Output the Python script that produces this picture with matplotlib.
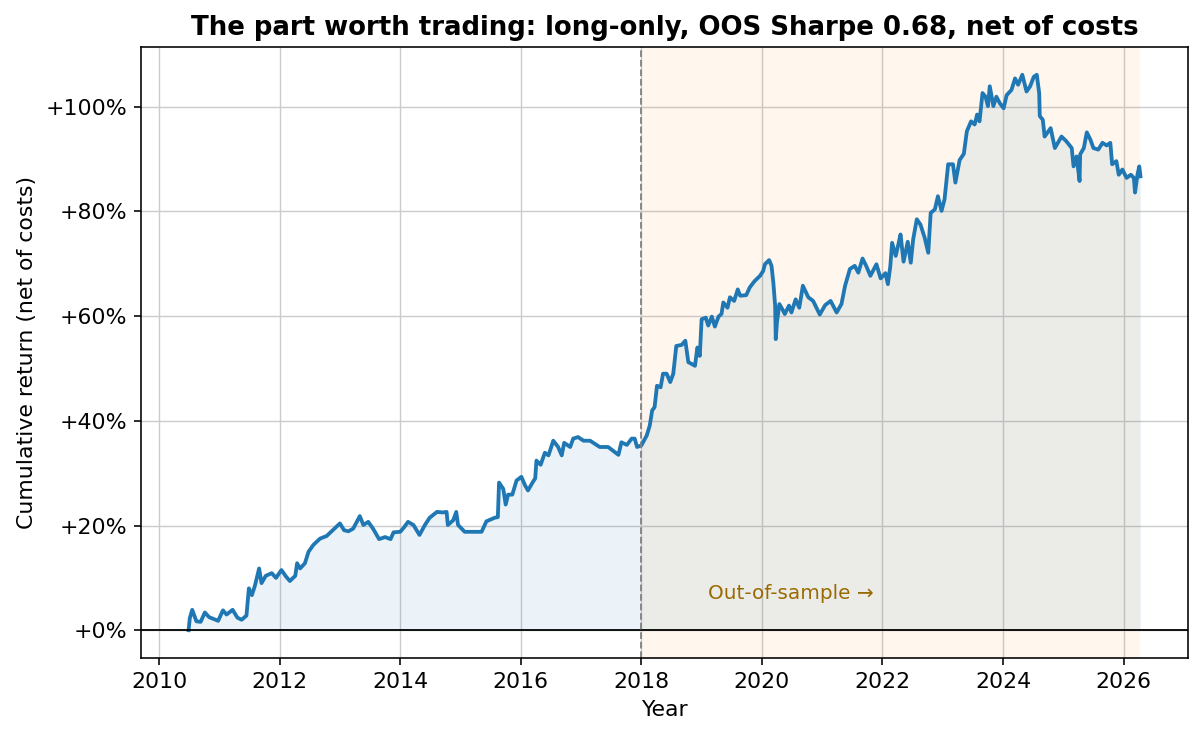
import matplotlib
matplotlib.use("Agg")
import matplotlib.pyplot as plt
from matplotlib.ticker import FuncFormatter

plt.rcParams["font.family"] = ["DejaVu Sans"]
plt.rcParams["font.size"] = 11

# values (decimal year, cumulative return in %)
years = [
    2010.49, 2010.51, 2010.55, 2010.62, 2010.69, 2010.76, 2010.83, 2010.98, 2011.06, 2011.12,
    2011.22, 2011.30, 2011.37, 2011.45, 2011.49, 2011.54, 2011.59, 2011.66, 2011.70, 2011.77,
    2011.87, 2011.94, 2012.03, 2012.11, 2012.17, 2012.26, 2012.29, 2012.34, 2012.42, 2012.48,
    2012.56, 2012.67, 2012.78, 2012.89, 2013.00, 2013.07, 2013.14, 2013.22, 2013.33, 2013.39,
    2013.47, 2013.55, 2013.65, 2013.75, 2013.84, 2013.89, 2014.00, 2014.06, 2014.13, 2014.22,
    2014.32, 2014.41, 2014.49, 2014.61, 2014.71, 2014.77, 2014.79, 2014.88, 2014.93, 2014.96,
    2015.07, 2015.21, 2015.35, 2015.43, 2015.57, 2015.62, 2015.64, 2015.71, 2015.75, 2015.79,
    2015.86, 2015.93, 2016.01, 2016.07, 2016.12, 2016.20, 2016.24, 2016.26, 2016.33, 2016.40,
    2016.46, 2016.54, 2016.62, 2016.68, 2016.72, 2016.82, 2016.87, 2016.95, 2017.04, 2017.15,
    2017.23, 2017.31, 2017.45, 2017.53, 2017.62, 2017.67, 2017.76, 2017.84, 2017.89, 2017.93,
    2018.00, 2018.09, 2018.14, 2018.18, 2018.22, 2018.26, 2018.32, 2018.36, 2018.42, 2018.48,
    2018.53, 2018.58, 2018.67, 2018.73, 2018.78, 2018.83, 2018.89, 2018.93, 2018.97, 2019.00,
    2019.07, 2019.11, 2019.17, 2019.22, 2019.28, 2019.33, 2019.36, 2019.43, 2019.47, 2019.54,
    2019.60, 2019.64, 2019.74, 2019.80, 2019.88, 2019.97, 2020.02, 2020.05, 2020.12, 2020.16,
    2020.19, 2020.22, 2020.23, 2020.25, 2020.29, 2020.34, 2020.38, 2020.45, 2020.49, 2020.56,
    2020.62, 2020.68, 2020.77, 2020.85, 2020.96, 2021.05, 2021.14, 2021.24, 2021.32, 2021.38,
    2021.46, 2021.54, 2021.60, 2021.67, 2021.73, 2021.80, 2021.90, 2021.97, 2022.05, 2022.09,
    2022.13, 2022.16, 2022.22, 2022.27, 2022.30, 2022.35, 2022.42, 2022.47, 2022.51, 2022.57,
    2022.63, 2022.70, 2022.76, 2022.80, 2022.87, 2022.92, 2022.98, 2023.03, 2023.09, 2023.17,
    2023.21, 2023.28, 2023.35, 2023.40, 2023.47, 2023.53, 2023.57, 2023.61, 2023.66, 2023.71,
    2023.75, 2023.78, 2023.84, 2023.89, 2023.95, 2024.01, 2024.06, 2024.14, 2024.20, 2024.25,
    2024.32, 2024.39, 2024.45, 2024.51, 2024.56, 2024.60, 2024.61, 2024.66, 2024.69, 2024.79,
    2024.86, 2024.97, 2025.05, 2025.14, 2025.17, 2025.22, 2025.27, 2025.28, 2025.34, 2025.39,
    2025.45, 2025.50, 2025.58, 2025.65, 2025.72, 2025.78, 2025.81, 2025.88, 2025.92, 2025.98,
    2026.05, 2026.12, 2026.17, 2026.19, 2026.23, 2026.26, 2026.28,
]
cum_ret = [
    0.0, 2.3, 3.9, 1.7, 1.6, 3.4, 2.5, 1.8, 3.8, 3.0,
    3.9, 2.4, 2.0, 2.8, 8.0, 6.7, 8.5, 11.8, 9.0, 10.4,
    10.9, 10.0, 11.5, 10.2, 9.4, 10.4, 12.8, 11.8, 12.8, 15.0,
    16.3, 17.5, 18.0, 19.2, 20.4, 19.1, 18.9, 19.4, 21.8, 20.1,
    20.7, 19.4, 17.4, 17.8, 17.4, 18.7, 18.8, 19.6, 20.7, 20.1,
    18.2, 20.1, 21.5, 22.6, 22.5, 22.6, 20.1, 21.0, 22.6, 20.1,
    18.8, 18.8, 18.8, 20.8, 21.5, 21.6, 28.2, 27.0, 24.0, 25.9,
    25.9, 28.6, 29.3, 27.7, 26.7, 28.3, 29.0, 32.4, 31.6, 33.9,
    33.4, 36.2, 35.0, 33.4, 35.8, 35.0, 36.6, 36.9, 36.2, 36.2,
    35.6, 35.0, 35.0, 34.3, 33.5, 35.9, 35.4, 36.6, 36.6, 35.0,
    35.3, 37.2, 39.1, 42.0, 42.6, 46.7, 46.4, 49.0, 49.0, 47.4,
    49.0, 54.3, 54.5, 55.3, 51.2, 50.9, 50.5, 54.0, 52.4, 59.4,
    59.7, 58.2, 59.9, 58.0, 59.9, 60.4, 62.6, 61.6, 63.6, 62.9,
    65.1, 63.9, 64.0, 65.5, 66.7, 67.7, 68.6, 69.9, 70.7, 69.6,
    66.4, 62.0, 55.6, 58.8, 62.3, 61.3, 60.4, 62.0, 60.7, 63.2,
    61.6, 65.8, 63.6, 62.9, 60.3, 62.1, 62.9, 60.7, 62.3, 65.8,
    69.0, 69.6, 68.3, 71.0, 69.6, 67.7, 69.9, 67.2, 68.2, 66.1,
    69.5, 74.0, 71.5, 74.0, 75.6, 70.4, 74.2, 70.2, 74.7, 78.5,
    77.5, 75.0, 72.1, 79.7, 80.4, 82.9, 80.1, 82.3, 89.0, 89.0,
    85.5, 89.8, 91.0, 95.3, 97.2, 96.6, 98.5, 97.2, 102.6, 101.9,
    100.1, 103.9, 100.1, 101.9, 100.6, 99.7, 102.2, 103.2, 105.4, 104.2,
    106.1, 102.9, 103.9, 105.7, 106.1, 102.6, 98.2, 97.5, 94.3, 95.9,
    92.1, 94.3, 93.4, 92.1, 88.6, 90.5, 85.8, 90.9, 92.1, 95.1,
    93.7, 92.1, 91.8, 93.1, 92.6, 93.1, 89.0, 89.6, 87.0, 88.0,
    86.4, 87.0, 86.4, 83.6, 87.0, 88.6, 86.7,
]
oos_start = 2018.0
year_ticks = [2010, 2012, 2014, 2016, 2018, 2020, 2022, 2024, 2026]

# 144 dpi so text and lines come out at the reference's scale
fig = plt.figure(figsize=(1202 / 144, 741 / 144), dpi=144)
ax = fig.add_axes([0.1173, 0.112, 0.8711, 0.8246])

ret = [v / 100 for v in cum_ret]

ax.axvspan(oos_start, years[-1], color="tab:orange", alpha=0.065, lw=0)
ax.fill_between(years, 0, ret, color="tab:blue", alpha=0.085, lw=0)
ax.plot(years, ret, color="tab:blue", lw=1.9)
ax.axhline(0, color="black", lw=0.9)
ax.axvline(oos_start, color="grey", ls="--", lw=0.9)

ax.text(2019.1, 0.07, "Out-of-sample \u2192", color="#9a6a00", fontsize=10, va="center")

ax.set_xticks(year_ticks)
ax.yaxis.set_major_formatter(FuncFormatter(lambda v, p: "{:+.0%}".format(v)))
ax.grid(True, color="#cccccc", lw=0.7)
ax.set_axisbelow(True)

ax.set_xlabel("Year")
ax.set_ylabel("Cumulative return (net of costs)")
ax.set_title("The part worth trading: long-only, OOS Sharpe 0.68, net of costs",
             fontsize=13, fontweight="bold")

fig.savefig("out.png", dpi=144)
